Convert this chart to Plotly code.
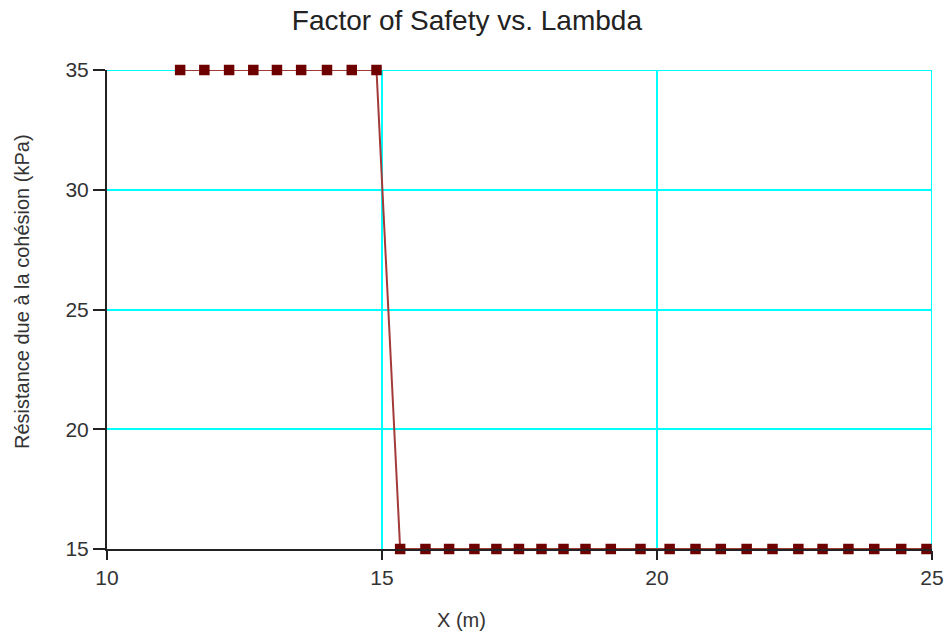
import plotly.graph_objects as go

x_top = [11.33, 11.77, 12.22, 12.66, 13.09, 13.53, 14.00, 14.45, 14.90]
y_top = [35] * len(x_top)
x_bottom = [15.33, 15.79, 16.22, 16.68, 17.08, 17.49, 17.90, 18.30, 18.70, 19.16,
            19.70, 20.23, 20.70, 21.16, 21.63, 22.10, 22.57, 23.01, 23.48, 23.95,
            24.44, 24.90]
y_bottom = [15] * len(x_bottom)

x_vals = x_top + x_bottom
y_vals = y_top + y_bottom

x_range = [10, 25]
y_range = [15, 35]
x_ticks = [10, 15, 20, 25]
y_ticks = [15, 20, 25, 30, 35]

GRID = "#00FFFF"
AXIS = "#222222"
font_family = "Liberation Sans, Arial, sans-serif"

fig = go.Figure()
fig.add_trace(go.Scatter(
    x=x_vals, y=y_vals, mode="lines+markers",
    line=dict(color="#A33A3A", width=2),
    marker=dict(symbol="square", size=10.5, color="#6E0000"),
    showlegend=False, cliponaxis=False,
))

# grid lines on the far edges (plotly omits gridlines on range boundaries)
fig.add_shape(type="line", xref="x", yref="paper", x0=x_range[1], x1=x_range[1],
              y0=0, y1=1, line=dict(color=GRID, width=2), layer="below")
fig.add_shape(type="line", xref="paper", yref="y", x0=0, x1=1,
              y0=y_range[1], y1=y_range[1], line=dict(color=GRID, width=2), layer="below")

fig.update_layout(
    width=949, height=637,
    margin=dict(l=107, r=17, t=70, b=88, autoexpand=False),
    paper_bgcolor="white", plot_bgcolor="white",
    font=dict(family=font_family, size=20, color="#333333"),
    title=dict(text="Factor of Safety vs. Lambda", x=0.492, xanchor="center",
               y=0.968, yref="container", yanchor="middle",
               font=dict(size=28, color="#222222", family=font_family)),
    xaxis=dict(range=x_range, tickvals=x_ticks, showgrid=True, gridcolor=GRID,
               gridwidth=2, zeroline=False, showline=True, linecolor=AXIS,
               linewidth=2, ticks="outside", ticklen=9, tickcolor=AXIS,
               tickwidth=2, tickfont=dict(size=21)),
    yaxis=dict(range=y_range, tickvals=y_ticks, showgrid=True, gridcolor=GRID,
               gridwidth=2, zeroline=False, showline=True, linecolor=AXIS,
               linewidth=2, ticks="outside", ticklen=12, tickcolor=AXIS,
               tickwidth=2, tickfont=dict(size=21)),
    annotations=[
        dict(text="X (m)", xref="paper", yref="paper", x=0.430, y=-0.148,
             xanchor="center", yanchor="middle", showarrow=False,
             font=dict(size=20, color="#333333")),
        dict(text="Résistance due à la cohésion (kPa)", xref="paper", yref="paper",
             x=-0.103, y=0.5365, xanchor="center", yanchor="middle", textangle=-90,
             showarrow=False, font=dict(size=20, color="#333333")),
    ],
)

fig.write_html("out.html", config={"displayModeBar": False},
               post_script="document.body.style.margin='0';")
